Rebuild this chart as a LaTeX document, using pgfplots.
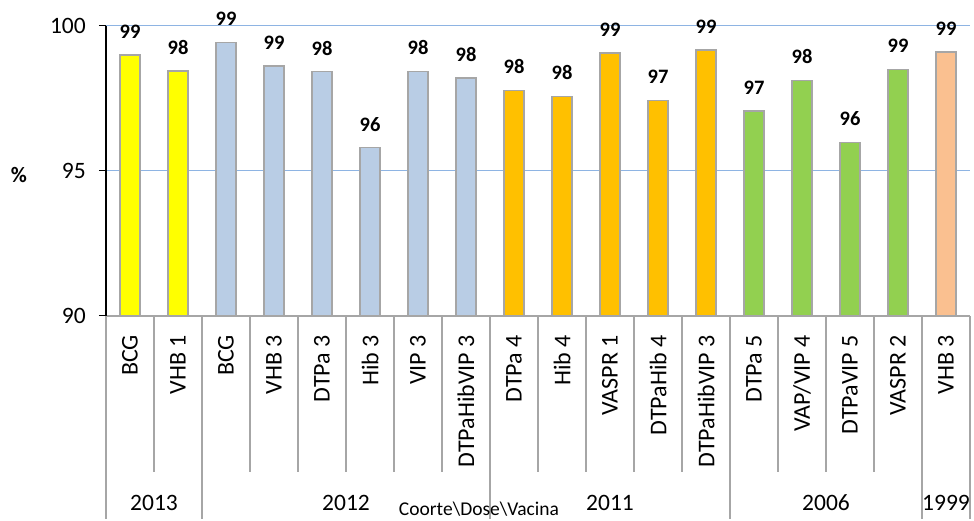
\documentclass[border=0pt]{standalone}
\usepackage{pgfplots}
\pgfplotsset{compat=1.18}
\usepackage{fontspec}
\setmainfont{Carlito}
\definecolor{cyellow}{HTML}{FFFF00}
\definecolor{cblue}{HTML}{B9CDE5}
\definecolor{corange}{HTML}{FFC000}
\definecolor{cgreen}{HTML}{92D050}
\definecolor{cpeach}{HTML}{FAC090}
\definecolor{bargray}{HTML}{A6A6A6}
\definecolor{gridblue}{HTML}{8EB4E3}
\begin{document}
\begin{tikzpicture}
\useasboundingbox (0,0) rectangle (974pt,521pt);
\begin{axis}[
  name=ax, at={(106pt,205pt)}, anchor=south west,
  scale only axis, width=864pt, height=290pt,
  xmin=-0.5, xmax=17.5, ymin=90, ymax=100,
  ybar, bar width=20pt, bar shift=0pt,
  ytick={90,95,100}, ymajorgrids,
  grid style={draw=gridblue, line width=1pt},
  xtick={0,...,17},
  xticklabels={BCG,VHB 1,BCG,VHB 3,DTPa 3,Hib 3,VIP 3,DTPaHibVIP 3,DTPa 4,Hib 4,VASPR 1,DTPaHib 4,DTPaHibVIP 3,DTPa 5,VAP/VIP 4,DTPaVIP 5,VASPR 2,VHB 3},
  x tick style={draw=none},
  xticklabel shift=12pt,
  xticklabel style={rotate=90, anchor=east, inner sep=0pt, font=\fontsize{24}{26}\selectfont},
  yticklabel style={inner sep=0pt, xshift=-13pt, font=\fontsize{23.5}{26}\selectfont},
  /pgf/number format/assume math mode=true,
  axis x line*=bottom, axis y line*=left,
  x axis line style={draw=bargray, line width=1.2pt, -},
  y axis line style={draw=black, line width=1.2pt, -},
  y tick style={draw=black, line width=1pt},
  tick align=outside, major tick length=7pt,
  point meta=explicit,
  nodes near coords={\pgfmathprintnumber[fixed,precision=0]{\pgfplotspointmeta}},
  every node near coord/.append style={font=\bfseries\fontsize{20.5}{22}\selectfont, inner sep=0pt, yshift=16pt, text=black},
]
\addplot[fill=cyellow, draw=bargray, line width=1.2pt] table[meta=m] {
x y m
0 99.00 99
1 98.45 98
};
\addplot[fill=cblue, draw=bargray, line width=1.2pt] table[meta=m] {
x y m
2 99.44 99
3 98.62 99
4 98.42 98
5 95.80 96
6 98.43 98
7 98.21 98
};
\addplot[fill=corange, draw=bargray, line width=1.2pt] table[meta=m] {
x y m
8 97.77 98
9 97.58 98
10 99.07 99
11 97.44 97
12 99.17 99
};
\addplot[fill=cgreen, draw=bargray, line width=1.2pt] table[meta=m] {
x y m
13 97.07 97
14 98.13 98
15 95.99 96
16 98.50 99
};
\addplot[fill=cpeach, draw=bargray, line width=1.2pt] table[meta=m] {
x y m
17 99.10 99
};
\end{axis}
\foreach \k in {1,3,4,5,6,7,9,10,11,12,14,15,16}
  \draw[bargray, line width=1.2pt] ([xshift=\k*48pt]ax.south west) -- ++(0,-156pt);
\foreach \k in {0,2,8,13,17,18}
  \draw[bargray, line width=1.2pt] ([xshift=\k*48pt]ax.south west) -- ++(0,-203pt);
\foreach \k/\t in {1/2013,5/2012,10.5/2011,15/2006,17.5/1999}
  \node[font=\fontsize{23.5}{26}\selectfont, inner sep=0pt] at ([xshift=\k*48pt, yshift=-187pt]ax.south west) {\t};
\node[font=\fontsize{19.5}{22}\selectfont, inner sep=0pt] at ([xshift=373pt, yshift=-193pt]ax.south west) {Coorte\textbackslash Dose\textbackslash Vacina};
\node[font=\bfseries\fontsize{22}{24}\selectfont, inner sep=0pt] at ([xshift=-87pt, yshift=141pt]ax.south west) {\%};
\end{tikzpicture}
\end{document}
